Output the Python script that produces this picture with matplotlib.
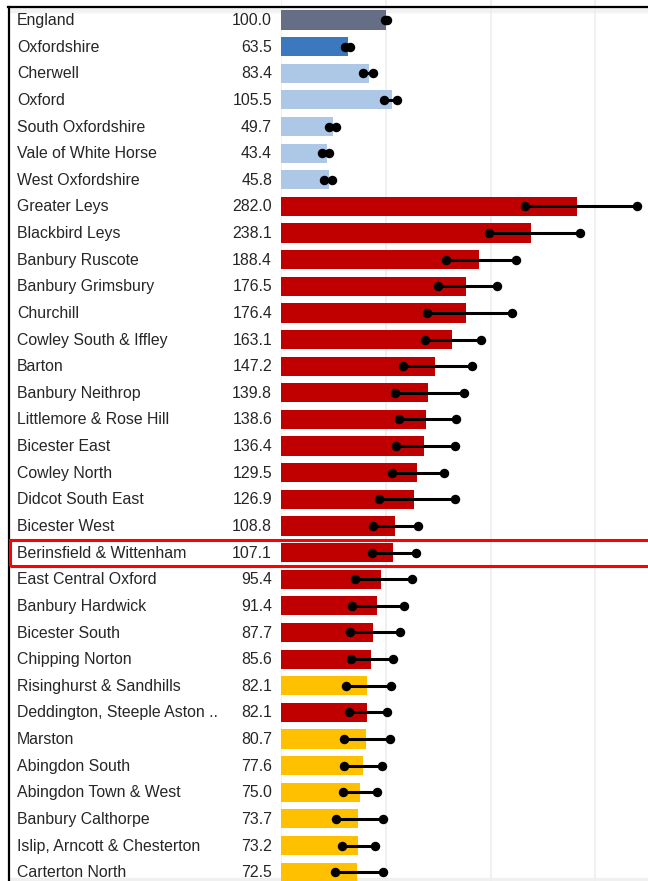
import matplotlib
matplotlib.use('Agg')
import matplotlib.pyplot as plt
from matplotlib.patches import Rectangle
from matplotlib.lines import Line2D
from matplotlib.transforms import blended_transform_factory

# rows, top to bottom
names = ['England', 'Oxfordshire', 'Cherwell', 'Oxford', 'South Oxfordshire',
         'Vale of White Horse', 'West Oxfordshire', 'Greater Leys',
         'Blackbird Leys', 'Banbury Ruscote', 'Banbury Grimsbury', 'Churchill',
         'Cowley South & Iffley', 'Barton', 'Banbury Neithrop',
         'Littlemore & Rose Hill', 'Bicester East', 'Cowley North',
         'Didcot South East', 'Bicester West', 'Berinsfield & Wittenham',
         'East Central Oxford', 'Banbury Hardwick', 'Bicester South',
         'Chipping Norton', 'Risinghurst & Sandhills',
         'Deddington, Steeple Aston ..', 'Marston', 'Abingdon South',
         'Abingdon Town & West', 'Banbury Calthorpe',
         'Islip, Arncott & Chesterton', 'Carterton North']
values = [100.0, 63.5, 83.4, 105.5, 49.7, 43.4, 45.8, 282.0, 238.1, 188.4,
          176.5, 176.4, 163.1, 147.2, 139.8, 138.6, 136.4, 129.5, 126.9, 108.8,
          107.1, 95.4, 91.4, 87.7, 85.6, 82.1, 82.1, 80.7, 77.6, 75.0, 73.7,
          73.2, 72.5]
ci_low = [99.3, 60.5, 78.0, 98.5, 45.2, 39.0, 41.0, 233.0, 198.0, 157.0,
          150.0, 139.0, 137.5, 116.0, 109.0, 112.5, 109.5, 105.5, 93.0, 88.0,
          87.0, 70.0, 68.0, 65.5, 66.5, 62.0, 64.5, 59.5, 59.5, 59.0, 52.5,
          57.5, 51.0]
ci_high = [100.7, 65.5, 87.5, 110.5, 52.2, 46.0, 48.5, 340.0, 285.0, 224.0,
           206.0, 220.0, 190.5, 182.0, 174.5, 167.0, 166.0, 155.0, 166.0,
           130.5, 128.5, 124.5, 117.5, 113.0, 106.5, 104.5, 101.0, 104.0, 96.5,
           91.5, 97.5, 89.5, 97.5]
groups = ['eng', 'county'] + ['district'] * 5 + ['high'] * 18 + ['similar'] \
    + ['high'] + ['similar'] * 6
highlight = 'Berinsfield & Wittenham'

colours = {'eng': '#656e85', 'county': '#3c78be', 'district': '#adc8e6',
           'high': '#c00000', 'similar': '#ffc000'}

W, H = 648, 881
row0, step = 20.0, 26.63
x0, xscale = 281.3, 1.047

fig = plt.figure(figsize=(W / 100, H / 100), dpi=100)
ax = fig.add_axes([x0 / W, 0, 1 - x0 / W, 1])
ax.set_zorder(5.5)
ax.set_xlim(0, (W - x0) / xscale)
ax.set_ylim((H - row0) / step, -row0 / step)
ax.axis('off')

for gx in [0, 100, 200, 300]:
    ax.axvline(gx, color='#eeeeee', lw=1.2, zorder=0)

n = len(names)
ypos = list(range(n))
ax.barh(ypos, values, height=0.72, color=[colours[g] for g in groups],
        zorder=2)
for i in range(n):
    ax.plot([ci_low[i], ci_high[i]], [i, i], '-', color='black', lw=2.2,
            marker='o', ms=5.8, zorder=3, solid_capstyle='butt')

trans = blended_transform_factory(fig.transFigure, ax.transData)
for i in range(n):
    ax.text(17 / W, i + 0.02, names[i], transform=trans, ha='left',
            va='center', fontsize=11.4, family='Liberation Sans',
            color='#262626')
    ax.text(272 / W, i + 0.02, '%.1f' % values[i], transform=trans,
            ha='right', va='center', fontsize=11.4, family='Liberation Sans',
            color='#262626')

# panel frame and strips
fig.patches.append(Rectangle((9 / W, 1 - 11.5 / H), 1, 4 / H,
                             transform=fig.transFigure, color='#f2f2f2',
                             zorder=5))
fig.patches.append(Rectangle((9 / W, 0), 1, 3.2 / H,
                             transform=fig.transFigure, color='#f0f0f0',
                             zorder=5))
fig.lines.append(Line2D([8 / W, 1], [1 - 7 / H, 1 - 7 / H],
                        transform=fig.transFigure, color='black', lw=1.6,
                        zorder=7))
fig.lines.append(Line2D([8.5 / W, 8.5 / W], [0, 1 - 7 / H],
                        transform=fig.transFigure, color='black', lw=1.6,
                        zorder=7))

# red box round the selected ward
k = names.index(highlight)
yc = row0 + step * k
fig.patches.append(Rectangle((10 / W, 1 - (yc + 13) / H), 1, 26 / H,
                             transform=fig.transFigure, fill=False,
                             edgecolor='#ff0000', lw=2.2, zorder=7))

plt.savefig('out.png', dpi=100)
